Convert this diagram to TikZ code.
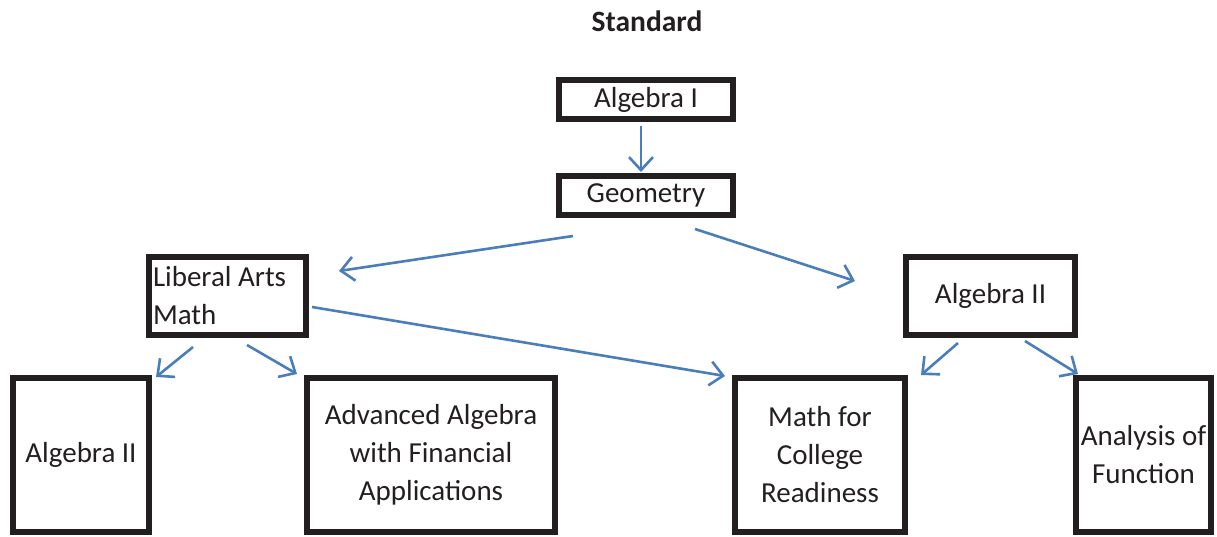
\documentclass[tikz,border=0pt]{standalone}
\usepackage{fontspec}
\setmainfont{Carlito}
\usetikzlibrary{arrows.meta}
\definecolor{arrblue}{HTML}{4A7EBB}
\definecolor{ink}{HTML}{231F20}
\begin{document}
\begin{tikzpicture}[x=1pt,y=-1pt,
 box/.style={draw=ink,line width=6pt,inner sep=0pt,align=center,text=ink,font=\fontsize{29}{38}\selectfont},
 arr/.style={arrblue,line width=2.6pt,-{Straight Barb[length=13pt,width=24pt,line width=2.6pt]}}]
\useasboundingbox (0,0) rectangle (1217,537);
\node[text=ink,font=\bfseries\fontsize{29.5}{34}\selectfont] (title) at (647,21) {Standard};
\node[box,minimum width=174pt,minimum height=39pt] (a1) at (646,99.5) {Algebra I};
\node[box,minimum width=174pt,minimum height=39pt] (geo) at (646,195.5) {Geometry};
\node[box,minimum width=157pt,minimum height=78pt,text width=149pt,inner xsep=4pt,align=flush left] (lam) at (227.5,296) {Liberal Arts\\Math};
\node[box,minimum width=169pt,minimum height=78pt] (a2r) at (990.5,296) {Algebra II};
\node[box,minimum width=136pt,minimum height=154pt] (a2l) at (81,455) {Algebra II};
\node[box,minimum width=248pt,minimum height=154pt] (adv) at (431,455) {Advanced Algebra\\with Financial\\Applications};
\node[box,minimum width=170pt,minimum height=154pt] (mcr) at (820,455) {Math for\\College\\Readiness};
\node[box,minimum width=135pt,minimum height=154pt] (anf) at (1143.5,455) {Analysis of\\Function};
\coordinate (s1) at (641,126); \coordinate (t1) at (641,172);
\coordinate (s2) at (573,236); \coordinate (t2) at (339,271);
\coordinate (s3) at (695,229); \coordinate (t3) at (855,281);
\coordinate (s4) at (312,307); \coordinate (t4) at (725,376);
\coordinate (s5) at (193,347); \coordinate (t5) at (156,377);
\coordinate (s6) at (247,345); \coordinate (t6) at (297,374);
\coordinate (s7) at (958,343); \coordinate (t7) at (921,375);
\coordinate (s8) at (1025,341); \coordinate (t8) at (1078,374);
\draw[arr] (s1) -- (t1);
\draw[arr] (s2) -- (t2);
\draw[arr] (s3) -- (t3);
\draw[arr] (s4) -- (t4);
\draw[arr] (s5) -- (t5);
\draw[arr] (s6) -- (t6);
\draw[arr] (s7) -- (t7);
\draw[arr] (s8) -- (t8);
\end{tikzpicture}
\end{document}
